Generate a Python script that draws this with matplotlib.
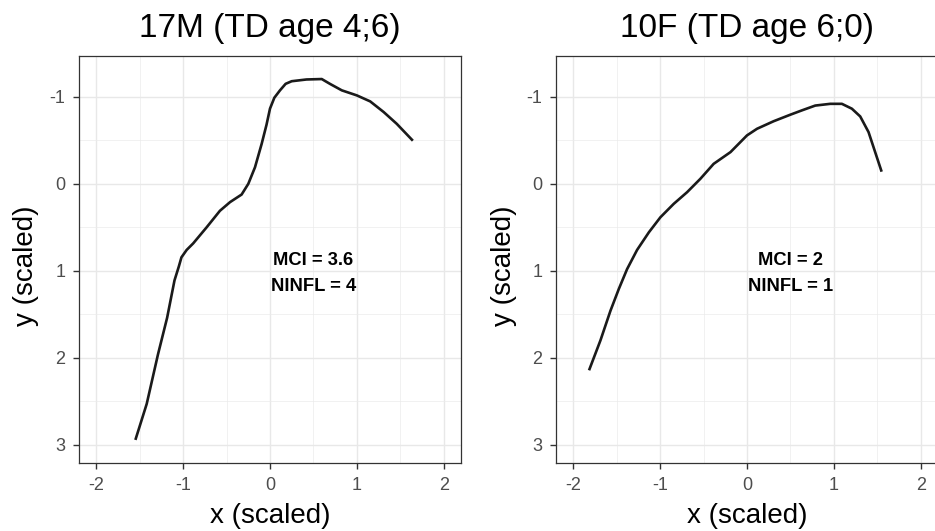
import matplotlib
matplotlib.use('Agg')
import matplotlib.pyplot as plt
from matplotlib.ticker import MultipleLocator

plt.rcParams['font.family'] = ['Liberation Sans', 'DejaVu Sans']
plt.rcParams['axes.unicode_minus'] = False

# ── data ─────────────────────────────────────────────────────────────────────
titles = ['17M (TD age 4;6)', '10F (TD age 6;0)']

left_x = [-1.546, -1.42, -1.29, -1.185, -1.10, -1.05, -1.02, -0.96, -0.885,
          -0.73, -0.577, -0.46, -0.327, -0.25, -0.173, -0.096, -0.04, 0.0,
          0.05, 0.115, 0.18, 0.25, 0.42, 0.596, 0.69, 0.827, 1.0, 1.154,
          1.31, 1.46, 1.635]
left_y = [2.93, 2.53, 1.96, 1.54, 1.11, 0.95, 0.845, 0.76, 0.685,
          0.50, 0.31, 0.21, 0.123, 0.0, -0.19, -0.46, -0.68, -0.865,
          -0.99, -1.075, -1.15, -1.18, -1.20, -1.205, -1.15, -1.075, -1.017,
          -0.948, -0.825, -0.69, -0.507]

right_x = [-1.814, -1.688, -1.573, -1.477, -1.381, -1.266, -1.13, -0.997,
           -0.844, -0.69, -0.537, -0.384, -0.19, 0.0, 0.115, 0.307, 0.499,
           0.633, 0.786, 0.959, 1.093, 1.208, 1.304, 1.40, 1.546]
right_y = [2.13, 1.80, 1.46, 1.21, 0.98, 0.76, 0.557, 0.384,
           0.23, 0.096, -0.058, -0.23, -0.365, -0.557, -0.633, -0.72, -0.795,
           -0.845, -0.90, -0.92, -0.92, -0.864, -0.775, -0.595, -0.154]

mci = ['3.6', '2']
ninfl = ['4', '1']

xticks = [-2, -1, 0, 1, 2]
yticks = [-1, 0, 1, 2, 3]

# ── figure ───────────────────────────────────────────────────────────────────
W, H = 935, 531
fig = plt.figure(figsize=(W / 100, H / 100), dpi=100)

panels = [(79, left_x, left_y, 33), (556, right_x, right_y, 511)]

for i, (left_px, xs, ys, ylab_px) in enumerate(panels):
    ax = fig.add_axes([left_px / W, (H - 463) / H, 382 / W, 407 / H])
    ax.plot(xs, ys, color='#1a1a1a', lw=1.9, solid_joinstyle='round', zorder=3)

    ax.set_xlim(-2.2, 2.2)
    ax.set_ylim(3.21, -1.47)
    ax.set_xticks(xticks)
    ax.set_yticks(yticks)
    ax.xaxis.set_minor_locator(MultipleLocator(0.5))
    ax.yaxis.set_minor_locator(MultipleLocator(0.5))
    ax.grid(which='major', color='#E8E8E8', lw=1.0)
    ax.grid(which='minor', color='#EBEBEB', lw=0.5)
    ax.set_axisbelow(True)

    ax.tick_params(which='major', length=4.3, width=1.0, color='#333333',
                   labelsize=13, labelcolor='#4D4D4D', pad=5.5)
    ax.tick_params(which='minor', length=0)
    for sp in ax.spines.values():
        sp.set_color('#333333')
        sp.set_linewidth(0.9)

    ax.set_title(titles[i], fontsize=24, pad=14)

    ax.text(0.5, 0.929, f'MCI = {mci[i]}', ha='center', va='baseline',
            fontsize=13.2, fontweight='bold', color='black', zorder=4)
    ax.text(0.5, 1.228, f'NINFL = {ninfl[i]}', ha='center', va='baseline',
            fontsize=13.2, fontweight='bold', color='black', zorder=4)

    fig.text((left_px + 191) / W, (H - 523) / H, 'x (scaled)', ha='center',
             va='baseline', fontsize=20)
    fig.text(ylab_px / W, (H - 266) / H, 'y (scaled)', rotation=90,
             rotation_mode='anchor', ha='center', va='baseline', fontsize=20)

fig.savefig('out.png', dpi=100)
